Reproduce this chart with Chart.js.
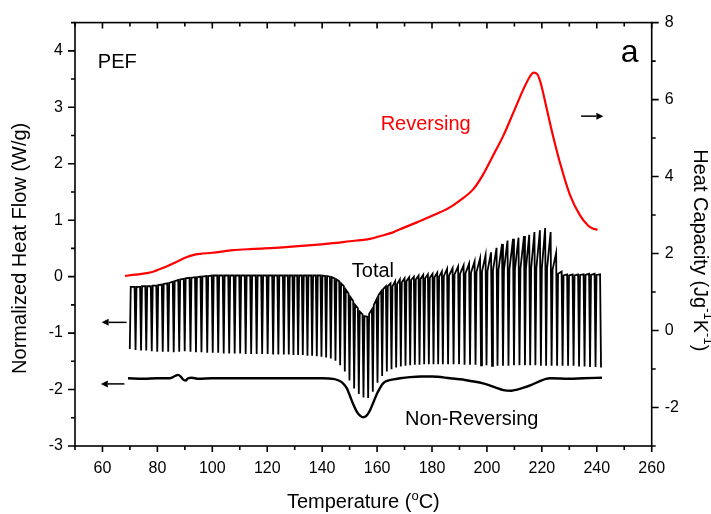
<!DOCTYPE html>
<html>
<head>
<meta charset="utf-8">
<script src="https://cdn.jsdelivr.net/npm/chart.js@4"></script>
<style>
  html, body { margin: 0; background: #fff; }
  canvas { display: block; }
</style>
</head>
<body>
<canvas id="chart" width="711" height="514"></canvas>
<script>
// axis ticks
const xTicks = [60, 80, 100, 120, 140, 160, 180, 200, 220, 240, 260];
const hfTicks = [-3, -2, -1, 0, 1, 2, 3, 4];
const cpTicks = [-2, 0, 2, 4, 6, 8];

// Reversing heat capacity (right axis, J/gK)
const revT = [68.2, 72, 76.2, 79, 81, 83.5, 85.7, 88, 90.8, 93, 95.5, 100, 107.5, 115, 125.7, 135, 144,
  150.1, 154, 157.4, 161, 165.8, 170, 174.5, 182.9, 187, 190.2, 194.9, 198.6, 202.2, 205.9, 209.5,
  213.1, 215.5, 217, 218.3, 219.5, 221.9, 224.1, 226.6, 230.3, 233.9, 236.8, 238.5, 240.3];
const revCp = [1.42, 1.45, 1.49, 1.54, 1.60, 1.67, 1.74, 1.82, 1.91, 1.96, 1.99, 2.02, 2.09, 2.12, 2.16, 2.21, 2.27,
  2.32, 2.35, 2.38, 2.45, 2.55, 2.68, 2.81, 3.07, 3.22, 3.38, 3.66, 4.05, 4.54, 5.05, 5.64,
  6.24, 6.58, 6.70, 6.66, 6.45, 5.72, 5.05, 4.36, 3.51, 2.99, 2.73, 2.65, 2.62];

// Non-reversing heat flow (left axis, W/g)
const nrT = [69.3, 75, 80, 84.6, 86.4, 87.5, 88.5, 89.3, 90.2, 91.2, 92.5, 95, 100, 110, 120, 130, 140, 144,
  146, 147.6, 149, 150.1, 151.4, 152.7, 154, 154.9, 156, 157.4, 158.7, 160, 161.2, 162.2, 164, 166, 168.4,
  172, 176, 180, 186.6, 192, 198.6, 203, 206, 209, 211, 213.1, 216, 219.3, 221.5, 223, 230, 235, 241.9];
const nrHF = [-1.80, -1.81, -1.80, -1.80, -1.76, -1.74, -1.77, -1.82, -1.84, -1.80, -1.79, -1.81, -1.80, -1.80, -1.80, -1.80, -1.80, -1.81,
  -1.84, -1.89, -1.98, -2.11, -2.27, -2.40, -2.47, -2.49, -2.47, -2.37, -2.22, -2.07, -1.96, -1.89, -1.84, -1.82, -1.80,
  -1.78, -1.77, -1.77, -1.80, -1.83, -1.89, -1.96, -2.01, -2.02, -2.00, -1.97, -1.92, -1.85, -1.81, -1.80, -1.81, -1.80, -1.79];

// Total (modulated) heat flow: one entry per modulation cycle
const spikeT = [69.6, 71.7, 73.7, 75.6, 77.6, 79.6, 81.6, 83.6, 85.6, 87.6,
  89.6, 91.7, 93.7, 95.7, 97.8, 99.8, 101.8, 103.8, 105.8, 107.8,
  109.8, 111.8, 113.8, 115.8, 117.8, 119.8, 121.8, 123.7, 125.7,
  127.5, 129.2, 130.9, 132.6, 134.3, 136.0, 137.7, 139.4, 141.1, 142.8,
  144.5, 146.2, 147.9, 149.6, 151.3, 153.0, 154.7, 156.4, 158.1, 159.8,
  161.5, 163.2, 164.9, 166.6, 168.3, 170.0, 171.7, 173.4, 175.1, 176.8,
  178.5, 180.2, 181.9, 183.6,
  185.5, 187.5, 189.5, 191.5, 193.5, 195.5, 197.5, 199.5, 201.5, 203.5,
  205.5, 207.5, 209.5, 211.5, 213.5, 215.4, 217.3, 219.3, 221.2, 223.2,
  225.2, 227.2, 229.2, 231.2, 233.2, 235.2, 237.2, 239.2, 241.2];
const spikePeak = [null, -0.18, -0.18, -0.17, -0.17, -0.16, -0.14, -0.12, -0.09, -0.06,
  -0.04, -0.02, -0.01, 0.00, 0.01, 0.02, 0.02, 0.02, 0.02, 0.02,
  0.02, 0.02, 0.02, 0.02, 0.02, 0.02, 0.02, 0.02, 0.02,
  0.02, 0.02, 0.02, 0.02, 0.02, 0.02, 0.02, 0.02, 0.01, 0.00,
  -0.03, -0.08, -0.17, -0.30, -0.43, -0.56, -0.67, -0.71, -0.58, -0.40,
  -0.26, -0.17, -0.12, -0.08, -0.05, -0.03, -0.01, 0.00, 0.02, 0.03,
  0.04, 0.05, 0.07, 0.09,
  0.14, 0.15, 0.18, 0.20, 0.23, 0.27, 0.32, 0.38, 0.43, 0.51,
  0.58, 0.64, 0.67, 0.69, 0.72, 0.74, 0.79, 0.82, 0.86, 0.79,
  0.42, 0.09, 0.04, 0.04, 0.04, 0.04, 0.05, 0.05, 0.04];
const spikeLow = [-1.28, -1.30, -1.31, -1.31, -1.32, -1.33, -1.33, -1.33, -1.34, -1.33,
  -1.32, -1.33, -1.34, -1.34, -1.35, -1.35, -1.35, -1.36, -1.36, -1.36,
  -1.36, -1.37, -1.37, -1.37, -1.37, -1.37, -1.38, -1.38, -1.38,
  -1.38, -1.39, -1.39, -1.39, -1.40, -1.40, -1.41, -1.42, -1.43, -1.45,
  -1.49, -1.57, -1.68, -1.84, -1.98, -2.08, -2.14, -2.15, -2.04, -1.88,
  -1.76, -1.68, -1.64, -1.61, -1.59, -1.58, -1.57, -1.56, -1.56, -1.55,
  -1.55, -1.55, -1.55, -1.55,
  -1.55, -1.55, -1.55, -1.56, -1.56, -1.56, -1.57, -1.57, -1.58, -1.58,
  -1.58, -1.58, -1.57, -1.57, -1.57, -1.57, -1.57, -1.58, -1.58, -1.58,
  -1.58, -1.58, -1.58, -1.58, -1.59, -1.59, -1.60, -1.60, -1.61];
const spikeValley = [-0.18, -0.18, -0.17, -0.17, -0.16, -0.15, -0.13, -0.11, -0.08, -0.05,
  -0.03, -0.02, -0.01, 0.00, 0.01, 0.02, 0.02, 0.02, 0.02, 0.02,
  0.02, 0.02, 0.02, 0.02, 0.02, 0.02, 0.02, 0.02, 0.02,
  0.02, 0.02, 0.02, 0.02, 0.02, 0.02, 0.02, 0.02, 0.01, -0.01,
  -0.05, -0.12, -0.23, -0.36, -0.50, -0.62, -0.70, -0.66, -0.50, -0.33,
  -0.22, -0.17, -0.17, -0.13, -0.10, -0.08, -0.06, -0.05, -0.04, -0.03,
  -0.02, -0.01, 0.00, 0.01,
  0.02, 0.04, 0.05, 0.06, 0.07, 0.08, 0.09, 0.10, 0.11, 0.12,
  0.12, 0.13, 0.13, 0.14, 0.14, 0.15, 0.15, 0.15, 0.15, 0.12,
  0.05, 0.02, 0.02, 0.02, 0.03, 0.03, 0.03, 0.03, null];

// text labels and arrows, placed in data units
const notes = [
  { text: 'PEF', t: 58.3, v: 3.70, axis: 'y', color: '#000', size: 20 },
  { text: 'a', t: 248.7, v: 3.80, axis: 'y', color: '#000', size: 32 },
  { text: 'Reversing', t: 161.3, v: 2.59, axis: 'y', color: '#ff0000', size: 20 },
  { text: 'Total', t: 150.8, v: 0.0, axis: 'y', color: '#000', size: 20 },
  { text: 'Non-Reversing', t: 170.2, v: -2.63, axis: 'y', color: '#000', size: 20 }
];
const arrows = [
  { from: [68.8, -0.81], to: [59.7, -0.81], axis: 'y' },
  { from: [68.0, -1.90], to: [59.4, -1.90], axis: 'y' },
  { from: [234.3, 5.57], to: [242.4, 5.57], axis: 'y2' }
];

const FAMILY = '"Liberation Sans", Arial, sans-serif';
const pts = (xs, ys) => xs.map((t, i) => ({ x: t, y: ys[i] }));

// each cycle: peak -> narrow spike down -> back up to the valley level
const totalPts = [];
spikeT.forEach((t, i) => {
  if (spikePeak[i] !== null) totalPts.push({ x: t, y: spikePeak[i] });
  totalPts.push({ x: t + 0.35, y: spikeLow[i] });
  if (spikeValley[i] !== null) totalPts.push({ x: t + 0.7, y: spikeValley[i] });
});

// draws text with superscript parts, centred on (0,0)
function richText(ctx, parts, size) {
  const sup = Math.round(size * 0.65);
  let w = 0;
  parts.forEach(p => {
    ctx.font = (p.sup ? sup : size) + 'px ' + FAMILY;
    p.w = ctx.measureText(p.t).width;
    w += p.w;
  });
  let x = -w / 2;
  parts.forEach(p => {
    ctx.font = (p.sup ? sup : size) + 'px ' + FAMILY;
    ctx.fillText(p.t, x, p.sup ? -size * 0.38 : 0);
    x += p.w;
  });
}

function arrow(ctx, x0, y0, x1, y1) {
  const a = Math.atan2(y1 - y0, x1 - x0), L = 7, W = 3.5;
  const c = Math.cos(a), s = Math.sin(a);
  ctx.beginPath();
  ctx.moveTo(x0, y0);
  ctx.lineTo(x1 - L * c, y1 - L * s);
  ctx.stroke();
  ctx.beginPath();
  ctx.moveTo(x1, y1);
  ctx.lineTo(x1 - L * c + W * s, y1 - L * s - W * c);
  ctx.lineTo(x1 - L * c - W * s, y1 - L * s + W * c);
  ctx.closePath();
  ctx.fill();
}

const frame = {
  id: 'frame',
  afterDraw(chart) {
    const { ctx, chartArea: a } = chart;
    const { x, y, y2 } = chart.scales;
    ctx.save();
    ctx.strokeStyle = '#000';
    ctx.fillStyle = '#000';
    ctx.lineWidth = 1.6;
    ctx.strokeRect(a.left, a.top, a.right - a.left, a.bottom - a.top);

    ctx.beginPath();
    for (let k = 0; k <= 21; k++) {
      const v = 50 + k * 10;
      const px = x.getPixelForValue(v);
      const len = v % 20 === 0 ? 6 : 4;
      ctx.moveTo(px, a.bottom); ctx.lineTo(px, a.bottom + len);
      ctx.moveTo(px, a.top); ctx.lineTo(px, a.top + len);
    }
    for (let k = 0; k <= 15; k++) {
      const py = y.getPixelForValue(-3 + k * 0.5);
      const len = k % 2 === 0 ? 7 : 4;
      ctx.moveTo(a.left, py); ctx.lineTo(a.left - len, py);
    }
    for (let k = 0; k <= 11; k++) {
      const v = -3 + k;
      const py = y2.getPixelForValue(v);
      const len = v % 2 === 0 ? 7 : 4;
      ctx.moveTo(a.right, py); ctx.lineTo(a.right + len, py);
    }
    ctx.stroke();

    // axis titles
    ctx.textBaseline = 'alphabetic';
    ctx.save();
    ctx.translate((a.left + a.right) / 2, 508);
    richText(ctx, [{ t: 'Temperature (' }, { t: 'o', sup: true }, { t: 'C)' }], 20);
    ctx.restore();

    ctx.textBaseline = 'middle';
    ctx.save();
    ctx.translate(20, (a.top + a.bottom) / 2 + 14);
    ctx.rotate(-Math.PI / 2);
    richText(ctx, [{ t: 'Normalized Heat Flow (W/g)' }], 20);
    ctx.restore();

    ctx.save();
    ctx.translate(700, (a.top + a.bottom) / 2 + 16);
    ctx.rotate(Math.PI / 2);
    richText(ctx, [{ t: 'Heat Capacity (Jg' }, { t: '-1', sup: true }, { t: 'K' }, { t: '-1', sup: true }, { t: ')' }], 20);
    ctx.restore();

    // labels inside the plot
    ctx.textBaseline = 'alphabetic';
    ctx.textAlign = 'left';
    notes.forEach(n => {
      ctx.font = n.size + 'px ' + FAMILY;
      ctx.fillStyle = n.color;
      ctx.fillText(n.text, x.getPixelForValue(n.t), chart.scales[n.axis].getPixelForValue(n.v));
    });

    ctx.fillStyle = '#000';
    ctx.lineWidth = 1.5;
    arrows.forEach(r => {
      const sc = chart.scales[r.axis];
      arrow(ctx, x.getPixelForValue(r.from[0]), sc.getPixelForValue(r.from[1]),
        x.getPixelForValue(r.to[0]), sc.getPixelForValue(r.to[1]));
    });
    ctx.restore();
  }
};

const tickFont = { family: FAMILY, size: 16 };

new Chart(document.getElementById('chart'), {
  type: 'line',
  data: {
    datasets: [
      {
        label: 'Reversing', data: pts(revT, revCp), yAxisID: 'y2',
        borderColor: '#ff0000', borderWidth: 2.2, pointRadius: 0, cubicInterpolationMode: 'monotone'
      },
      {
        label: 'Total', data: totalPts, yAxisID: 'y',
        borderColor: '#000', borderWidth: 1.8, pointRadius: 0, tension: 0
      },
      {
        label: 'Non-Reversing', data: pts(nrT, nrHF), yAxisID: 'y',
        borderColor: '#000', borderWidth: 2.4, pointRadius: 0, cubicInterpolationMode: 'monotone'
      }
    ]
  },
  options: {
    responsive: false,
    animation: false,
    devicePixelRatio: 1,
    layout: { padding: { top: 19, left: 0, right: 0, bottom: 0 } },
    plugins: { legend: { display: false }, tooltip: { enabled: false } },
    scales: {
      x: {
        type: 'linear', min: 50, max: 260,
        grid: { display: false, drawTicks: false }, border: { display: false },
        afterBuildTicks: s => { s.ticks = xTicks.map(v => ({ value: v })); },
        afterFit: s => { s.height = 68; },
        ticks: { font: tickFont, color: '#000', padding: 13, autoSkip: false, maxRotation: 0 }
      },
      y: {
        type: 'linear', position: 'left', min: -3, max: 4.5,
        grid: { display: false, drawTicks: false }, border: { display: false },
        afterBuildTicks: s => { s.ticks = hfTicks.map(v => ({ value: v })); },
        afterFit: s => { s.width = 75; },
        ticks: { font: tickFont, color: '#000', padding: 12 }
      },
      y2: {
        type: 'linear', position: 'right', min: -3, max: 8,
        grid: { display: false, drawTicks: false }, border: { display: false },
        afterBuildTicks: s => { s.ticks = cpTicks.map(v => ({ value: v })); },
        afterFit: s => { s.width = 59.3; },
        ticks: { font: tickFont, color: '#000', padding: 13 }
      }
    }
  },
  plugins: [frame]
});
</script>
</body>
</html>
